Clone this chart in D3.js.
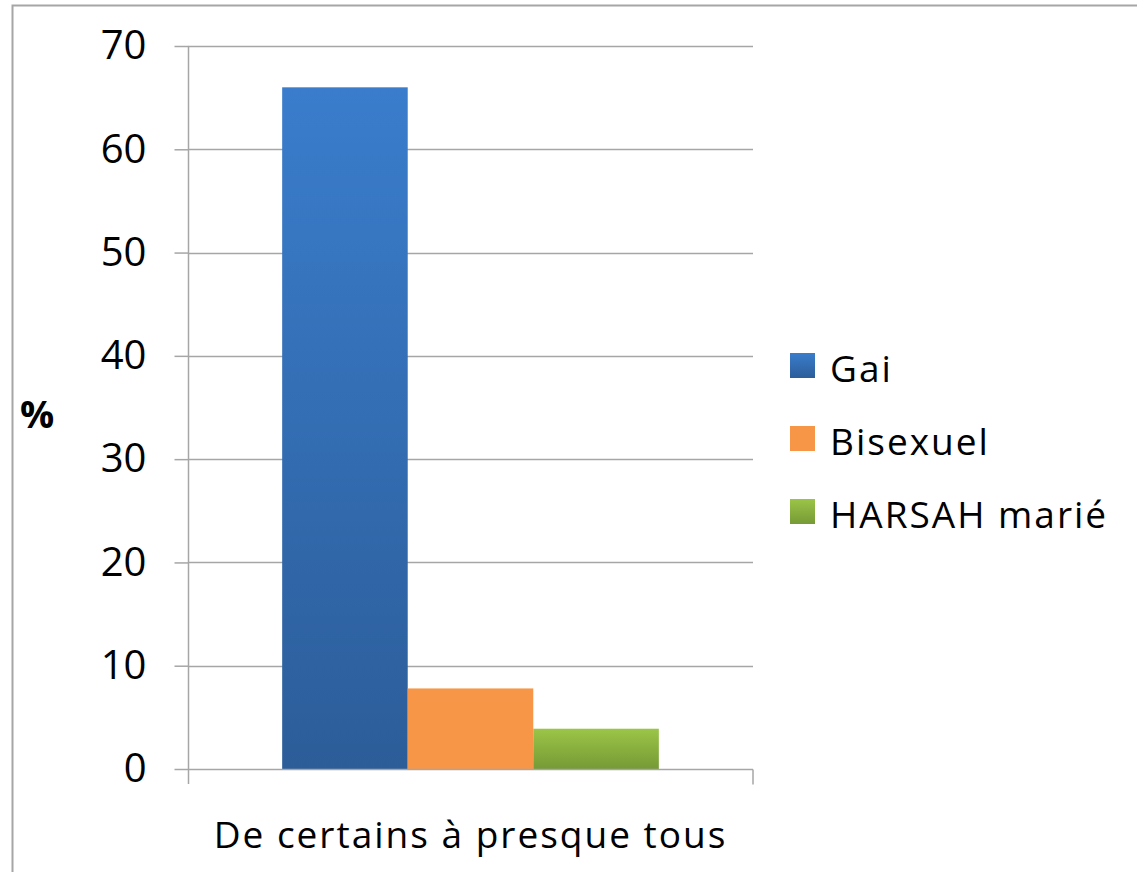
<!DOCTYPE html>
<meta charset="utf-8">
<style>
body { margin: 0; background: white; }
text { font-family: "Open Sans", sans-serif; fill: #000; }
</style>
<body>
<script src="https://d3js.org/d3.v7.min.js"></script>
<script>

// data
var categories = ["De certains à presque tous"];
var seriesNames = ["Gai", "Bisexuel", "HARSAH marié"];
var gai = [66];
var bisexuel = [7.8];
var harsah = [3.9];
var yTicks = [0, 10, 20, 30, 40, 50, 60, 70];

var colors = {
  "Gai": ["#3a7dcc", "#2c5d99"],
  "Bisexuel": ["#f79646", "#f79646"],
  "HARSAH marié": ["#9bc547", "#769a36"]
};

var width = 1137,
    height = 872;

var margin = {left: 188, right: 384, top: 46, bottom: 103};

var svg = d3.select("body").append("svg")
    .attr("width", width)
    .attr("height", height);

// gradients per series
var defs = svg.append("defs");
seriesNames.forEach(function(s, i) {
  var gr = defs.append("linearGradient")
      .attr("id", "grad" + i)
      .attr("x1", 0).attr("y1", 0).attr("x2", 0).attr("y2", 1);
  gr.append("stop").attr("offset", "0%").attr("stop-color", colors[s][0]);
  gr.append("stop").attr("offset", "100%").attr("stop-color", colors[s][1]);
});

// outer frame
svg.append("path")
    .attr("d", "M12.5," + height + "V5.5H" + width)
    .attr("fill", "none")
    .attr("stroke", "#a6a6a6")
    .attr("stroke-width", 2);

var x = d3.scaleBand()
    .domain(categories)
    .range([margin.left, width - margin.right])
    .paddingInner(0)
    .paddingOuter(0.25);

var y = d3.scaleLinear()
    .domain([0, 70])
    .range([height - margin.bottom, margin.top]);

var x1 = d3.scaleBand()
    .domain(seriesNames)
    .range([0, x.bandwidth()]);

// gridlines
svg.append("g")
  .selectAll("line")
  .data(yTicks.slice(1))
  .enter().append("line")
    .attr("x1", margin.left)
    .attr("x2", width - margin.right)
    .attr("y1", function(d) { return Math.round(y(d)) + 0.5; })
    .attr("y2", function(d) { return Math.round(y(d)) + 0.5; })
    .attr("stroke", "#a6a6a6")
    .attr("stroke-width", 1.5);

// bars
var rows = categories.map(function(c, i) {
  return {cat: c, values: [gai[i], bisexuel[i], harsah[i]]};
});

var g = svg.append("g");
rows.forEach(function(r) {
  g.selectAll(null)
    .data(r.values)
    .enter().append("rect")
      .attr("x", function(d, i) { return x(r.cat) + x1(seriesNames[i]); })
      .attr("y", function(d) { return y(d); })
      .attr("width", x1.bandwidth())
      .attr("height", function(d) { return y(0) - y(d); })
      .attr("fill", function(d, i) { return "url(#grad" + i + ")"; });
});

// y axis
var yAxis = d3.axisLeft(y)
    .tickValues(yTicks)
    .tickSize(14)
    .tickPadding(28)
    .tickFormat(d3.format("d"));

var ya = svg.append("g")
    .attr("transform", "translate(" + (margin.left + 0.5) + ",0)")
    .call(yAxis);
ya.select(".domain").remove();
ya.append("line")
    .attr("y1", margin.top).attr("y2", height - margin.bottom + 15)
    .attr("stroke", "#a6a6a6").attr("stroke-width", 1.5);
ya.selectAll(".tick line").attr("stroke", "#a6a6a6").attr("stroke-width", 1.5);
ya.selectAll(".tick text")
    .style("font-size", "40px")
    .style("font-family", "'Open Sans', sans-serif")
    .attr("fill", "#000");

// x axis
var xa = svg.append("g")
    .attr("transform", "translate(0," + (Math.round(y(0)) + 0.5) + ")");
xa.append("line")
    .attr("x1", margin.left).attr("x2", width - margin.right)
    .attr("stroke", "#a6a6a6").attr("stroke-width", 1.5);
xa.append("line")
    .attr("x1", width - margin.right).attr("x2", width - margin.right)
    .attr("y1", 0).attr("y2", 15)
    .attr("stroke", "#a6a6a6").attr("stroke-width", 1.5);
xa.selectAll("text")
  .data(categories)
  .enter().append("text")
    .attr("x", function(d) { return x(d) + x.bandwidth() / 2; })
    .attr("y", 78)
    .attr("text-anchor", "middle")
    .style("font-size", "37px")
    .style("letter-spacing", "2px")
    .text(function(d) { return d; });

// y label
svg.append("text")
    .attr("x", 20)
    .attr("y", 428)
    .style("font-size", "38px")
    .style("font-weight", "bold")
    .text("%");

// legend
var legend = svg.append("g")
    .attr("transform", "translate(790,353)");
var li = legend.selectAll("g")
  .data(seriesNames)
  .enter().append("g")
    .attr("transform", function(d, i) { return "translate(0," + (i * 73) + ")"; });
li.append("rect")
    .attr("width", 25).attr("height", 25)
    .attr("fill", function(d, i) { return "url(#grad" + i + ")"; });
li.append("text")
    .attr("x", 40)
    .attr("y", 29)
    .style("font-size", "37px")
    .style("letter-spacing", "2px")
    .text(function(d) { return d; });

</script>
</body>
</html>
